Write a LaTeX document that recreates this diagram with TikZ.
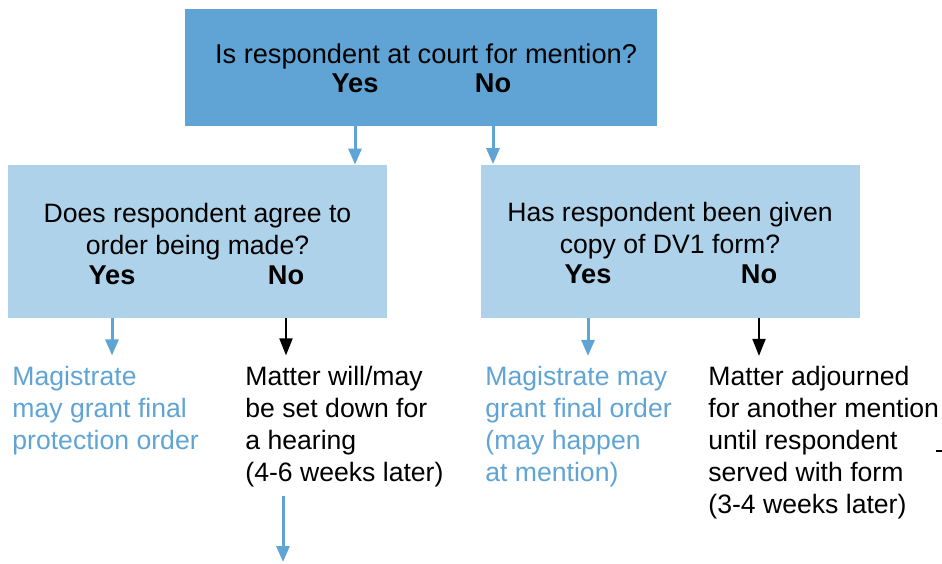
\documentclass[tikz,border=0pt]{standalone}
\usepackage{fontspec}
\setmainfont{Liberation Sans}
\usetikzlibrary{arrows.meta}
\definecolor{midblue}{RGB}{95,164,212}
\definecolor{paleblue}{RGB}{174,210,233}

\begin{document}
\begin{tikzpicture}[
      x=0.5pt, y=-0.5pt,
      every node/.style={font=\fontsize{13.3}{16}\selectfont, inner sep=0pt},
      topbox/.style={rectangle, fill=midblue, minimum width=236pt, minimum height=58.5pt},
      qbox/.style={rectangle, fill=paleblue, minimum width=189.5pt, minimum height=76.5pt},
      quest/.style={align=center, anchor=north},
      ans/.style={font=\fontsize{13.6}{16}\selectfont\bfseries, anchor=base},
      note/.style={align=left, anchor=north west},
      bluearrow/.style={-{Triangle[width=6.5pt,length=8pt]}, line width=1.5pt, draw=midblue},
      blackarrow/.style={-{Triangle[width=6.5pt,length=8.5pt]}, line width=1pt, draw=black}
    ]
      \useasboundingbox (0,0) rectangle (942,563);

      % Row 0: court question
      \node[topbox] (court) at (421,67.5) {};
      \node[quest, font=\fontsize{13.6}{16}\selectfont] (courtq) at (426,43) {Is respondent at court for mention?};
      \node[ans] (courtyes) at (355,92) {Yes};
      \node[ans] (courtno) at (493,92) {No};

      % Row 1: agree / copy questions
      \node[qbox] (agree) at (197.5,241.5) {};
      \node[quest] (agreeq) at (197.5,203) {Does respondent agree to\\order being made?};
      \node[ans] (agreeyes) at (112,284) {Yes};
      \node[ans] (agreeno) at (286,284) {No};

      \node[qbox] (copy) at (670.5,241) {};
      \node[quest] (copyq) at (670,202) {Has respondent been given\\copy of DV1 form?};
      \node[ans] (copyyes) at (588,283) {Yes};
      \node[ans] (copyno) at (759,283) {No};

      % Row 2: outcomes
      \node[note, text=midblue] (grantfinal) at (12,366) {Magistrate\\may grant final\\protection order};
      \node[note] (hearing) at (245,366) {Matter will/may\\be set down for\\a hearing\\(4-6 weeks later)};
      \node[note, text=midblue] (grantmention) at (485,366) {Magistrate may\\grant final order\\(may happen\\at mention)};
      \node[note] (adjourn) at (708,366) {Matter adjourned\\for another mention\\until respondent\\served with form\\(3-4 weeks later)};

      \coordinate (hearingout) at (283,562);
      \coordinate (offright) at (942,451);

      % === ARROWS ===
      \draw[bluearrow] (court.south -| courtyes) -- (agree.north -| courtyes);
      \draw[bluearrow] (court.south -| courtno) -- (copy.north -| courtno);

      \draw[bluearrow] (agree.south -| agreeyes) -- ++(0,37);
      \draw[blackarrow] (agree.south -| agreeno) -- ++(0,37);
      \draw[bluearrow] (copy.south -| copyyes) -- ++(0,38);
      \draw[blackarrow] (copy.south -| copyno) -- ++(0,38);

      % hearing goes on below
      \draw[bluearrow] (hearing.south -| hearingout) ++(0,8) -- (hearingout);
      \draw[line width=0.6pt] (offright) -- ++(-6,0);
    \end{tikzpicture}
\end{document}
